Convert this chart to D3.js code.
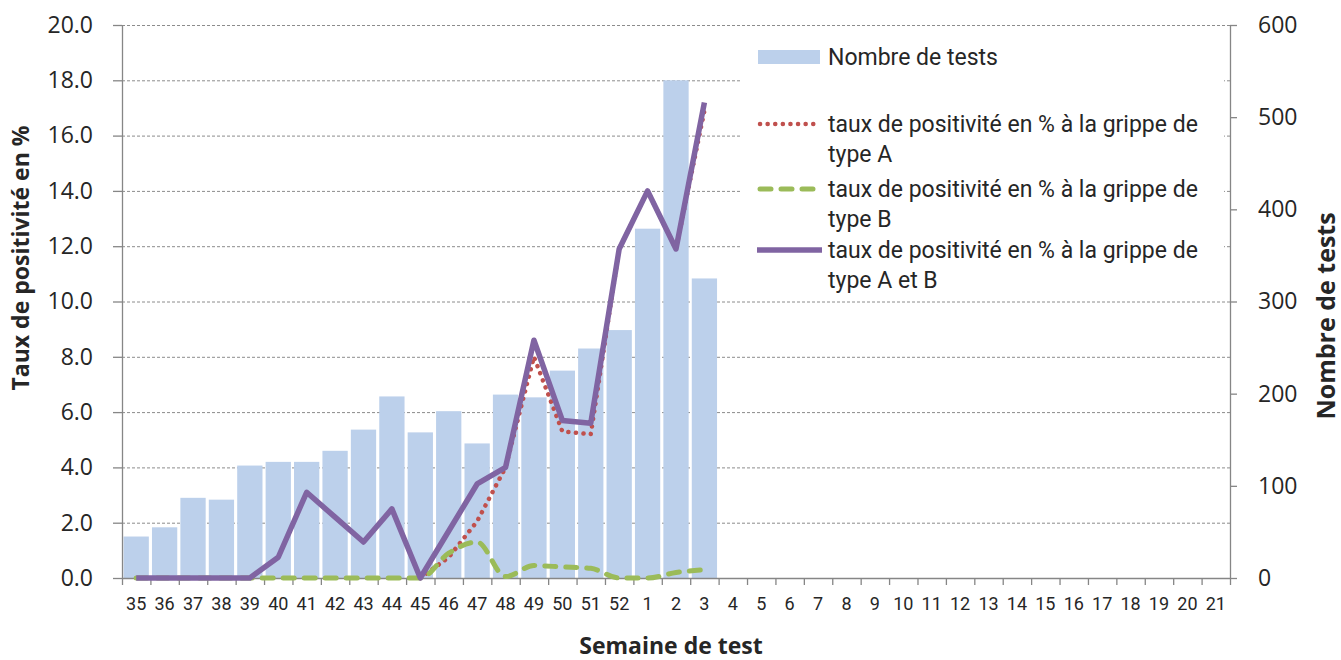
<!DOCTYPE html>
<html>
<head>
<meta charset="utf-8">
<script src="https://cdn.jsdelivr.net/npm/d3@7"></script>
<style>
  body { margin: 0; background: #fff; }
  text { fill: #262626; }
</style>
</head>
<body>
<div id="chart"></div>
<script>
// Weeks on the x axis (35 -> 52, then 1 -> 21)
const weeks = ["35","36","37","38","39","40","41","42","43","44","45","46","47","48","49","50","51","52",
  "1","2","3","4","5","6","7","8","9","10","11","12","13","14","15","16","17","18","19","20","21"];

// Nombre de tests (right axis), weeks 35 -> 3
const nbTests = [45, 55, 87, 85, 122, 126, 126, 138, 161, 197, 158, 181, 146, 199, 196, 225, 249, 269, 379, 540, 325];

// Taux de positivité (%) - left axis
const tauxA  = [null, null, null, null, null, null, null, null, null, null, 0, 0.75, 2.05, 4.0, 8.0, 5.3, 5.2, 11.9, 14.0, 11.9, 16.9];
const tauxB  = [0, 0, 0, 0, 0, 0, 0, 0, 0, 0, 0, 0.9, 1.3, 0.05, 0.45, 0.4, 0.35, 0, 0, 0.2, 0.3];
const tauxAB = [0, 0, 0, 0, 0, 0.75, 3.1, 2.2, 1.3, 2.5, 0, 1.7, 3.4, 4.0, 8.6, 5.7, 5.6, 11.9, 14.0, 11.9, 17.2];

const leftTicks = [0, 2, 4, 6, 8, 10, 12, 14, 16, 18, 20];
const rightTicks = [0, 100, 200, 300, 400, 500, 600];

const legendItems = [
  { type: "bar", color: "#bcd0eb", lines: ["Nombre de tests"] },
  { type: "dot", color: "#c0504d", lines: ["taux de positivité en % à la grippe de", "type A"] },
  { type: "dash", color: "#9bbb59", lines: ["taux de positivité en % à la grippe de", "type B"] },
  { type: "solid", color: "#8064a2", lines: ["taux de positivité en % à la grippe de", "type A et B"] }
];

const margin = { top: 25, right: 111, bottom: 82, left: 122 },
  width = 1341 - margin.left - margin.right,
  height = 660 - margin.top - margin.bottom;

const svg = d3.select("#chart")
  .append("svg")
  .attr("width", width + margin.left + margin.right)
  .attr("height", height + margin.top + margin.bottom)
  .append("g")
  .attr("transform", `translate(${margin.left},${margin.top})`);

// Scales
const xScale = d3.scaleBand().domain(weeks).range([0, width]).paddingInner(0.11).paddingOuter(0.055);
const yLeft = d3.scaleLinear().domain([0, 20]).range([height, 0]);
const yRight = d3.scaleLinear().domain([0, 600]).range([height, 0]);
const xMid = w => xScale(w) + xScale.bandwidth() / 2;
const step = xScale.step();

// Gridlines
svg.append("g")
  .selectAll("line")
  .data(leftTicks.filter(d => d > 0))
  .enter()
  .append("line")
  .attr("x1", 0)
  .attr("x2", width)
  .attr("y1", d => yLeft(d) + 0.5)
  .attr("y2", d => yLeft(d) + 0.5)
  .attr("stroke", "#8c8c8c")
  .attr("stroke-dasharray", "3,2");

// Bars
svg.selectAll(".bar")
  .data(nbTests)
  .enter()
  .append("rect")
  .attr("class", "bar")
  .attr("x", (d, i) => xScale(weeks[i]))
  .attr("width", xScale.bandwidth())
  .attr("y", d => yRight(d))
  .attr("height", d => height - yRight(d))
  .attr("fill", "#bcd0eb");

// Left axis
const yAxisLeft = d3.axisLeft(yLeft).tickValues(leftTicks).tickFormat(d3.format(".1f"))
  .tickSize(9).tickSizeOuter(0).tickPadding(20);
const gl = svg.append("g").attr("class", "y-axis-left").call(yAxisLeft);
gl.selectAll("text").style("font-family", "Open Sans").style("font-size", "23px");

// Right axis
const yAxisRight = d3.axisRight(yRight).tickValues(rightTicks).tickSize(7).tickSizeOuter(0).tickPadding(21);
const gr = svg.append("g").attr("class", "y-axis-right").attr("transform", `translate(${width},0)`).call(yAxisRight);
gr.selectAll("text").style("font-family", "Open Sans").style("font-size", "23px");

// Bottom axis: labels centered on bands, tick marks between bands
const xAxis = d3.axisBottom(xScale).tickSize(0).tickPadding(19).tickSizeOuter(0);
const gx = svg.append("g").attr("class", "x-axis").attr("transform", `translate(0,${height})`).call(xAxis);
gx.selectAll("text").style("font-family", "Roboto").style("font-size", "18px");
gx.selectAll(".tickmark")
  .data(weeks.concat(["end"]))
  .enter()
  .append("line")
  .attr("class", "tickmark")
  .attr("x1", (d, i) => i * step + 0.5)
  .attr("x2", (d, i) => i * step + 0.5)
  .attr("y1", 0)
  .attr("y2", 7);

svg.selectAll(".domain, .tick line, .tickmark")
  .attr("stroke", "#868686")
  .attr("stroke-width", 1.3);

// Lines
const lineData = arr => arr.map((v, i) => ({ w: weeks[i], v: v }));
const straight = d3.line().defined(d => d.v !== null).x(d => xMid(d.w)).y(d => yLeft(d.v));
const smooth = d3.line().defined(d => d.v !== null).x(d => xMid(d.w)).y(d => yLeft(d.v))
  .curve(d3.curveMonotoneX);

svg.append("path")
  .datum(lineData(tauxA))
  .attr("d", straight)
  .attr("fill", "none")
  .attr("stroke", "#c0504d")
  .attr("stroke-width", 4.5)
  .attr("stroke-linecap", "round")
  .attr("stroke-dasharray", "0.1,7.5");

svg.append("path")
  .datum(lineData(tauxB))
  .attr("d", smooth)
  .attr("fill", "none")
  .attr("stroke", "#9bbb59")
  .attr("stroke-width", 5)
  .attr("stroke-linecap", "round")
  .attr("stroke-dasharray", "11,10");

svg.append("path")
  .datum(lineData(tauxAB))
  .attr("d", straight)
  .attr("fill", "none")
  .attr("stroke", "#8064a2")
  .attr("stroke-width", 5.5)
  .attr("stroke-linejoin", "round");

// Axis titles
svg.append("text")
  .attr("transform", `translate(${29 - margin.left},${258 - margin.top}) rotate(-90)`)
  .style("text-anchor", "middle")
  .style("font-family", "Open Sans")
  .style("font-weight", "bold")
  .style("font-size", "23px")
  .text("Taux de positivité en %");

svg.append("text")
  .attr("transform", `translate(${1335 - margin.left},${316 - margin.top}) rotate(-90)`)
  .style("text-anchor", "middle")
  .style("font-family", "Open Sans")
  .style("font-weight", "bold")
  .style("font-size", "25px")
  .text("Nombre de tests");

svg.append("text")
  .attr("x", 671 - margin.left)
  .attr("y", 654 - margin.top)
  .style("text-anchor", "middle")
  .style("font-family", "Open Sans")
  .style("font-weight", "bold")
  .style("font-size", "23px")
  .text("Semaine de test");

// Legend
const legend = svg.append("g").attr("transform", `translate(${740 - margin.left},${35 - margin.top})`);
legend.append("rect").attr("width", 484).attr("height", 257).attr("fill", "#fff");
const rowY = [22, 89, 154, 215];
legendItems.forEach((item, i) => {
  const g = legend.append("g").attr("transform", `translate(0,${rowY[i]})`);
  if (item.type === "bar") {
    g.append("rect").attr("x", 18).attr("y", -7).attr("width", 62).attr("height", 14).attr("fill", item.color);
  } else {
    const l = g.append("line").attr("x1", 20).attr("x2", 80).attr("y1", 0).attr("y2", 0)
      .attr("stroke", item.color).attr("stroke-linecap", "round");
    if (item.type === "dot") l.attr("stroke-width", 4.5).attr("stroke-dasharray", "0.1,7.5");
    if (item.type === "dash") l.attr("stroke-width", 5).attr("stroke-dasharray", "11,10");
    if (item.type === "solid") l.attr("stroke-width", 5.5).attr("stroke-linecap", "butt").attr("x1", 17).attr("x2", 82);
  }
  item.lines.forEach((t, j) => {
    g.append("text")
      .attr("x", 88)
      .attr("y", j * 30)
      .attr("dy", "0.35em")
      .style("font-family", "Roboto")
      .style("font-size", "23px")
      .text(t);
  });
});
</script>
</body>
</html>
